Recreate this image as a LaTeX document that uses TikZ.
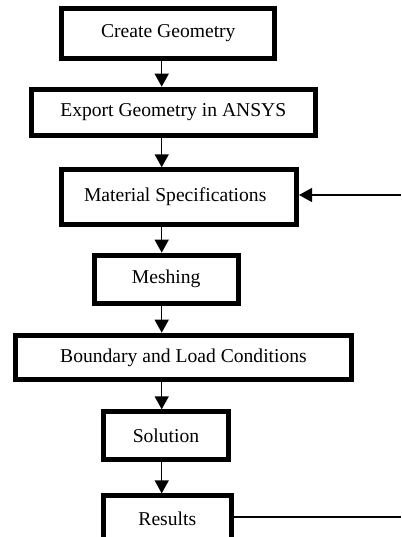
\documentclass[tikz,border=0pt]{standalone}
\usepackage{fontspec}
\setmainfont{Liberation Serif}
\usetikzlibrary{arrows.meta}
\begin{document}
\begin{tikzpicture}[x=1pt,y=-1pt,
		stage/.style={draw,line width=5pt,inner sep=0pt,fill=white,font=\fontsize{19.6}{23}\selectfont},
		flow/.style={line width=1.5pt,-{Triangle[length=13pt,width=14pt]}},
		link/.style={line width=1.5pt}]
		\clip (0,0) rectangle (401,537);
		%stages
		\node[stage,minimum width=213pt,minimum height=49.7pt] (geom) at (168.3,33.3){Create Geometry};
		\node[stage,minimum width=283.7pt,minimum height=46.6pt] (export) at (173.3,112.5){Export Geometry in ANSYS};
		\node[stage,minimum width=234.7pt,minimum height=54.4pt] (mat) at (179.2,197){Material Specifications\hspace*{8pt}};
		\node[stage,minimum width=144pt,minimum height=48.3pt] (mesh) at (166.2,279.3){Meshing};
		\node[stage,minimum width=336.6pt,minimum height=44.6pt] (bc) at (183.5,357.5){Boundary and Load Conditions};
		\node[stage,minimum width=125pt,minimum height=48pt] (sol) at (166,435.8){Solution};
		\node[stage,minimum width=127.5pt,minimum height=46.7pt] (res) at (167.3,519.2){Results};
		
		%flow down
		\coordinate (ax) at (161.7,0);
		\foreach \a/\b in {geom/export, export/mat, mat/mesh, mesh/bc, bc/sol, sol/res}{
			\draw[flow] (\a.south -| ax) -- (\b.north -| ax);
		}
		
		%loop back
		\coordinate (back) at (401,195);
		\coordinate (out) at (401,517);
		\draw[flow] (back) -- (back -| mat.east);
		\draw[link] (res.east |- out) -- (out);
\end{tikzpicture}
\end{document}
